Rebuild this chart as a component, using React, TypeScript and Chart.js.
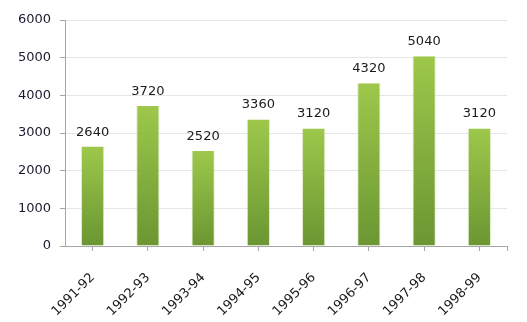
import React, { useEffect, useRef } from "react";
import { Chart, registerables } from "chart.js";

Chart.register(...registerables);

const categories = ["1991-92", "1992-93", "1993-94", "1994-95", "1995-96", "1996-97", "1997-98", "1998-99"];
const values = [2640, 3720, 2520, 3360, 3120, 4320, 5040, 3120];
const yTicks = [0, 1000, 2000, 3000, 4000, 5000, 6000];

const FONT = "'DejaVu Sans', Verdana, sans-serif";

export default function App() {
  const ref = useRef<HTMLCanvasElement | null>(null);

  useEffect(() => {
    document.body.style.margin = "0";
    const canvas = ref.current!;
    const valueLabels = {
      id: "valueLabels",
      afterDatasetsDraw(chart: any) {
        const ctx = chart.ctx;
        const meta = chart.getDatasetMeta(0);
        ctx.save();
        ctx.font = `13px ${FONT}`;
        ctx.fillStyle = "#1a1a1a";
        ctx.textAlign = "center";
        ctx.textBaseline = "alphabetic";
        meta.data.forEach((el: any, i: number) => {
          ctx.fillText(String(values[i]), el.x, el.y - 11);
        });
        ctx.restore();
      },
    };
    const endTick = {
      id: "endTick",
      afterDraw(chart: any) {
        const ctx = chart.ctx;
        const a = chart.chartArea;
        ctx.save();
        ctx.strokeStyle = "#a6a6a6";
        ctx.lineWidth = 1;
        ctx.beginPath();
        ctx.moveTo(Math.round(a.right) + 0.5, a.bottom);
        ctx.lineTo(Math.round(a.right) + 0.5, a.bottom + 5);
        ctx.stroke();
        ctx.restore();
      },
    };
    const chart = new Chart(canvas, {
      type: "bar",
      data: {
        labels: categories,
        datasets: [
          {
            data: values,
            backgroundColor: (c: any) => {
              const chart = c.chart;
              const ys = chart.scales?.y;
              if (!ys || c.dataIndex === undefined) return "#86b23f";
              const top = ys.getPixelForValue(values[c.dataIndex]);
              const bottom = ys.getPixelForValue(0);
              if (!isFinite(top) || !isFinite(bottom) || top === bottom) return "#86b23f";
              const g = chart.ctx.createLinearGradient(0, top, 0, bottom);
              g.addColorStop(0, "#9dc84b");
              g.addColorStop(1, "#6b9632");
              return g;
            },
            borderColor: "rgba(190,220,140,0.5)",
            borderWidth: { left: 1, right: 1, top: 0, bottom: 0 } as any,
            barPercentage: 0.84,
            categoryPercentage: 0.5,
          },
        ],
      },
      options: {
        animation: false,
        responsive: false,
        maintainAspectRatio: false,
        layout: { padding: { top: 20, right: 20, left: 0, bottom: 0 } },
        plugins: {
          legend: { display: false },
          tooltip: { enabled: false },
        },
        scales: {
          x: {
            grid: {
              offset: false,
              drawOnChartArea: false,
              color: "#a6a6a6",
              tickLength: 5,
            },
            border: { color: "#a6a6a6" },
            ticks: {
              minRotation: 45,
              maxRotation: 45,
              color: "#1a1a1a",
              font: { family: FONT, size: 13 },
              padding: 19,
            },
            afterFit: (s: any) => {
              s.height = 76;
            },
          },
          y: {
            min: 0,
            max: 6000,
            afterBuildTicks: (s: any) => {
              s.ticks = yTicks.map((v) => ({ value: v }));
            },
            grid: {
              color: "#e6e6e6",
              tickColor: "#a6a6a6",
              tickLength: 5,
            },
            border: { color: "#a6a6a6" },
            ticks: {
              color: "#1a1a2e",
              font: { family: FONT, size: 13 },
              padding: 9,
              callback: (v: any) => String(v),
            },
            afterFit: (s: any) => {
              s.width = 65;
            },
          },
        },
      },
      plugins: [valueLabels, endTick],
    });
    return () => chart.destroy();
  }, []);

  return (
    <div style={{ width: 527, height: 322, background: "#fff" }}>
      <canvas ref={ref} width={527} height={322} style={{ display: "block", width: 527, height: 322 }} />
    </div>
  );
}
